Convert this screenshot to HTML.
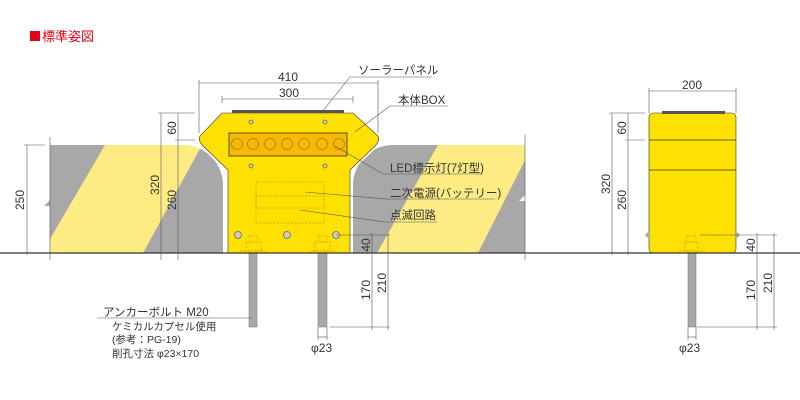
<!DOCTYPE html>
<html><head><meta charset="utf-8"><style>
body{margin:0;background:#fff}
svg{display:block}
text{font-family:"Liberation Sans","Noto Sans CJK JP",sans-serif;fill:#333}
</style></head><body>
<svg width="800" height="400" viewBox="0 0 800 400" xmlns="http://www.w3.org/2000/svg">
<defs>
<clipPath id="lb"><path d="M50,145 H183 A40,40 0 0 1 223,185 V253 H50 V206 L44,206 L50,200 Z"/></clipPath>
<clipPath id="rb"><path d="M393,145 H525 V195 L519,201 L525,201 V253 H353 V185 A40,40 0 0 1 393,145 Z"/></clipPath>
</defs>
<rect x="30" y="31" width="10" height="10" fill="#e60012"/>
<text x="42" y="41" font-size="13" style="fill:#e60012">標準姿図</text>

<!-- left barrier -->
<g clip-path="url(#lb)">
<rect x="40" y="140" width="190" height="120" fill="#a9a8a9"/>
<polygon points="105,145 202,145 143,253 50,253 50,239" fill="#fdec84"/>
</g>
<!-- right barrier -->
<g clip-path="url(#rb)">
<rect x="350" y="140" width="180" height="120" fill="#a9a8a9"/>
<polygon points="438,145 525,145 525,160 478,253 377,253" fill="#fdec84"/>
</g>

<!-- main box with white outline -->
<path d="M222,113 H353 L378,136 Q380,140 376,145 L350,170 V253 H228 V170 L202,145 Q198,140 200,136 Z" fill="#ffe100" stroke="#fff" stroke-width="4"/>
<path d="M222,113 H353 L378,136 Q380,140 376,145 L350,170 V253 H228 V170 L202,145 Q198,140 200,136 Z" fill="#ffe100" stroke="#333" stroke-width="0.6"/>
<rect x="232" y="110" width="112" height="3" fill="#555"/>
<rect x="229" y="133" width="118" height="23" fill="#f6b900" stroke="#333" stroke-width="0.8"/>
<g fill="#f6b900" stroke="#b07a00" stroke-width="0.8">
<circle cx="237" cy="144" r="5.5"/><circle cx="253" cy="144" r="5.5"/><circle cx="270" cy="144" r="5.5"/><circle cx="287" cy="144" r="5.5"/><circle cx="304" cy="144" r="5.5"/><circle cx="322" cy="144" r="5.5"/><circle cx="339" cy="144" r="5.5"/>
</g>
<g fill="#ccc" stroke="#666" stroke-width="0.8">
<circle cx="251" cy="122" r="2"/><circle cx="325" cy="122" r="2"/><circle cx="251" cy="166" r="2"/><circle cx="325" cy="166" r="2"/>
<circle cx="238" cy="235" r="3.5"/><circle cx="287" cy="235" r="3.5"/><circle cx="336" cy="235" r="3.5"/>
</g>
<g fill="none" stroke="#c9a000" stroke-width="0.7" stroke-dasharray="2,1.5">
<rect x="256" y="182" width="68" height="26"/><rect x="256" y="196" width="68" height="27"/>
<rect x="249" y="236" width="9" height="6"/><rect x="246" y="242" width="15" height="9"/><line x1="240" y1="251" x2="267" y2="251"/>
<rect x="318" y="236" width="9" height="6"/><rect x="315" y="242" width="15" height="9"/><line x1="309" y1="251" x2="336" y2="251"/>
</g>
<!-- rods -->
<rect x="249" y="253" width="8" height="74" fill="#a9a8a9" stroke="#777" stroke-width="0.5"/>
<rect x="318" y="253" width="9" height="74" fill="#a9a8a9" stroke="#777" stroke-width="0.5"/>

<!-- right view -->
<rect x="649" y="113" width="87" height="140" rx="4" fill="#ffe100" stroke="#333" stroke-width="0.6"/>
<rect x="662" y="111" width="63" height="3" fill="#555"/>
<line x1="649" y1="140" x2="736" y2="140" stroke="#333" stroke-width="0.8"/>
<line x1="649" y1="170" x2="736" y2="170" stroke="#333" stroke-width="0.8"/>
<circle cx="648" cy="235" r="2.5" fill="#aaa"/><circle cx="737" cy="235" r="2.5" fill="#aaa"/>
<g fill="none" stroke="#c9a000" stroke-width="0.7" stroke-dasharray="2,1.5">
<rect x="687" y="236" width="9" height="6"/><rect x="685" y="242" width="13" height="9"/><line x1="679" y1="251" x2="705" y2="251"/>
</g>
<rect x="688" y="253" width="8" height="74" fill="#a9a8a9" stroke="#777" stroke-width="0.5"/>

<!-- ground -->
<line x1="0" y1="253" x2="800" y2="253" stroke="#333" stroke-width="1.2"/>

<!-- dimension lines -->
<g stroke="#555" stroke-width="0.6" fill="none">
<line x1="199" y1="83" x2="378" y2="83"/><line x1="199" y1="80" x2="199" y2="133"/><line x1="378" y1="80" x2="378" y2="133"/>
<line x1="222" y1="99" x2="353" y2="99"/><line x1="222" y1="96" x2="222" y2="103"/><line x1="353" y1="96" x2="353" y2="103"/>
<line x1="161" y1="113" x2="161" y2="260"/><line x1="178" y1="113" x2="178" y2="260"/>
<line x1="158" y1="113" x2="195" y2="113"/><line x1="175" y1="140" x2="195" y2="140"/>
<line x1="27" y1="145" x2="27" y2="255"/><line x1="24" y1="145" x2="45" y2="145"/>
<line x1="50" y1="137" x2="50" y2="260"/>
<line x1="336" y1="235" x2="390" y2="235"/>
<line x1="372" y1="233" x2="372" y2="330"/><line x1="388" y1="233" x2="388" y2="330"/>
<line x1="330" y1="327" x2="390" y2="327"/>
<line x1="318" y1="327" x2="318" y2="340"/><line x1="327" y1="327" x2="327" y2="340"/><line x1="318" y1="337" x2="327" y2="337"/>
<line x1="525" y1="135" x2="525" y2="260"/>
<line x1="649" y1="91" x2="736" y2="91"/><line x1="649" y1="88" x2="649" y2="113"/><line x1="736" y1="88" x2="736" y2="113"/>
<line x1="612" y1="113" x2="612" y2="255"/><line x1="628" y1="113" x2="628" y2="255"/>
<line x1="609" y1="113" x2="645" y2="113"/><line x1="625" y1="140" x2="645" y2="140"/>
<line x1="700" y1="235" x2="777" y2="235"/>
<line x1="757" y1="233" x2="757" y2="330"/><line x1="774" y1="233" x2="774" y2="330"/>
<line x1="697" y1="327" x2="777" y2="327"/>
<line x1="688" y1="327" x2="688" y2="340"/><line x1="696" y1="327" x2="696" y2="340"/><line x1="688" y1="337" x2="696" y2="337"/>
</g>
<!-- leaders -->
<g stroke="#555" stroke-width="0.6" fill="none">
<polyline points="322,112 350,77 432,77"/>
<polyline points="355,132 390,106 448,106"/>
<polyline points="335,146 383,174 482,174"/>
<polyline points="305,192 385,199 495,199"/>
<polyline points="300,210 385,222 437,222"/>
<polyline points="252,318 97,318"/>
</g>

<g font-size="12">
<text x="288" y="81" text-anchor="middle">410</text>
<text x="289" y="97" text-anchor="middle">300</text>
<text x="692" y="93" text-anchor="middle" dy="-4">200</text>
<text transform="translate(24,200) rotate(-90)" text-anchor="middle">250</text>
<text transform="translate(159,185) rotate(-90)" text-anchor="middle">320</text>
<text transform="translate(176,200) rotate(-90)" text-anchor="middle">260</text>
<text transform="translate(176,128) rotate(-90)" text-anchor="middle">60</text>
<text transform="translate(370,245) rotate(-90)" text-anchor="middle">40</text>
<text transform="translate(370,290) rotate(-90)" text-anchor="middle">170</text>
<text transform="translate(386,283) rotate(-90)" text-anchor="middle">210</text>
<text transform="translate(610,184) rotate(-90)" text-anchor="middle">320</text>
<text transform="translate(626,200) rotate(-90)" text-anchor="middle">260</text>
<text transform="translate(626,128) rotate(-90)" text-anchor="middle">60</text>
<text transform="translate(755,245) rotate(-90)" text-anchor="middle">40</text>
<text transform="translate(755,290) rotate(-90)" text-anchor="middle">170</text>
<text transform="translate(772,283) rotate(-90)" text-anchor="middle">210</text>
<text x="311" y="352">φ23</text>
<text x="679" y="352">φ23</text>
</g>
<g font-size="11.5">
<text x="358" y="74">ソーラーパネル</text>
<text x="398" y="104">本体BOX</text>
<text x="390" y="172">LED標示灯(7灯型)</text>
<text x="390" y="197">二次電源(バッテリー)</text>
<text x="390" y="219">点滅回路</text>
<text x="103" y="316">アンカーボルト M20</text>
</g>
<g font-size="10.5">
<text x="112" y="330">ケミカルカプセル使用</text>
<text x="112" y="343">(参考：PG-19)</text>
<text x="112" y="357">削孔寸法 φ23×170</text>
</g>
</svg>
</body></html>
